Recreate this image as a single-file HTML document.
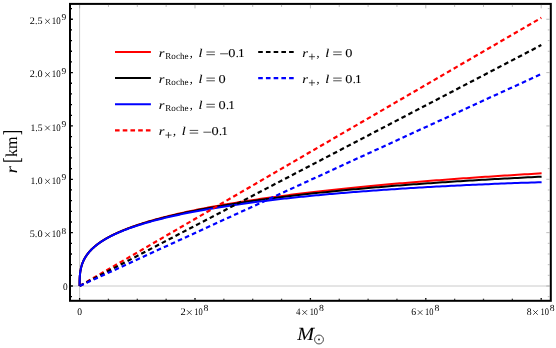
<!DOCTYPE html>
<html><head><meta charset="utf-8"><title>plot</title>
<style>html,body{margin:0;padding:0;background:#fff;overflow:hidden}svg text{font-family:"Liberation Serif",serif;text-rendering:geometricPrecision;}</style>
</head><body>
<svg width="556" height="348" viewBox="0 0 556 348" style="display:block">
<rect width="556" height="348" fill="#fff"/>
<line x1="70.0" x2="550.8" y1="286.0" y2="286.0" stroke="#cacaca" stroke-width="1"/>
<line x1="79.6" x2="79.6" y1="3.9" y2="300.8" stroke="#cacaca" stroke-width="1"/>
<path d="M79.60,286.00 L79.60,285.69 L79.60,285.38 L79.60,285.07 L79.60,284.75 L79.60,284.44 L79.60,284.13 L79.60,283.82 L79.60,283.51 L79.61,283.20 L79.61,282.88 L79.61,282.57 L79.61,282.26 L79.62,281.95 L79.62,281.64 L79.62,281.33 L79.63,281.02 L79.64,280.70 L79.64,280.39 L79.65,280.08 L79.66,279.77 L79.67,279.46 L79.68,279.15 L79.69,278.84 L79.70,278.52 L79.71,278.21 L79.73,277.90 L79.74,277.59 L79.76,277.28 L79.78,276.97 L79.79,276.66 L79.82,276.35 L79.84,276.03 L79.86,275.72 L79.88,275.41 L79.91,275.10 L79.94,274.79 L79.97,274.48 L80.00,274.17 L80.03,273.86 L80.06,273.55 L80.10,273.24 L80.13,272.93 L80.17,272.61 L80.21,272.30 L80.26,271.99 L80.30,271.68 L80.35,271.37 L80.40,271.06 L80.45,270.75 L80.50,270.44 L80.56,270.13 L80.62,269.82 L80.67,269.51 L80.74,269.20 L80.80,268.89 L80.87,268.58 L80.94,268.27 L81.01,267.96 L81.08,267.65 L81.16,267.34 L81.24,267.03 L81.32,266.72 L81.41,266.41 L81.49,266.10 L81.58,265.79 L81.68,265.48 L81.77,265.17 L81.87,264.86 L81.97,264.55 L82.08,264.24 L82.18,263.93 L82.29,263.62 L82.41,263.32 L82.53,263.01 L82.65,262.70 L82.77,262.39 L82.90,262.08 L83.03,261.77 L83.16,261.46 L83.30,261.15 L83.44,260.85 L83.58,260.54 L83.73,260.23 L83.88,259.92 L84.03,259.61 L84.19,259.30 L84.35,259.00 L84.52,258.69 L84.69,258.38 L84.86,258.07 L85.04,257.77 L85.22,257.46 L85.41,257.15 L85.60,256.84 L85.79,256.54 L85.99,256.23 L86.19,255.92 L86.39,255.62 L86.60,255.31 L86.82,255.00 L87.04,254.70 L87.26,254.39 L87.49,254.08 L87.72,253.78 L87.96,253.47 L88.20,253.17 L88.44,252.86 L88.69,252.55 L88.95,252.25 L89.21,251.94 L89.47,251.64 L89.74,251.33 L90.02,251.03 L90.29,250.72 L90.58,250.42 L90.87,250.11 L91.16,249.81 L91.46,249.50 L91.76,249.20 L92.07,248.90 L92.39,248.59 L92.71,248.29 L93.03,247.98 L93.36,247.68 L93.70,247.38 L94.04,247.07 L94.39,246.77 L94.74,246.47 L95.10,246.16 L95.46,245.86 L95.83,245.56 L96.20,245.25 L96.58,244.95 L96.97,244.65 L97.36,244.35 L97.76,244.05 L98.16,243.74 L98.57,243.44 L98.99,243.14 L99.41,242.84 L99.84,242.54 L100.27,242.24 L100.71,241.94 L101.16,241.63 L101.61,241.33 L102.07,241.03 L102.53,240.73 L103.00,240.43 L103.48,240.13 L103.96,239.83 L104.45,239.53 L104.95,239.23 L105.45,238.93 L105.96,238.63 L106.48,238.33 L107.01,238.03 L107.54,237.74 L108.07,237.44 L108.62,237.14 L109.17,236.84 L109.73,236.54 L110.29,236.24 L110.86,235.95 L111.44,235.65 L112.03,235.35 L112.62,235.05 L113.22,234.75 L113.83,234.46 L114.44,234.16 L115.07,233.86 L115.70,233.57 L116.33,233.27 L116.98,232.97 L117.63,232.68 L118.29,232.38 L118.96,232.09 L119.63,231.79 L120.31,231.49 L121.00,231.20 L121.70,230.90 L122.41,230.61 L123.12,230.31 L123.84,230.02 L124.57,229.72 L125.31,229.43 L126.05,229.13 L126.80,228.84 L127.57,228.55 L128.34,228.25 L129.11,227.96 L129.90,227.67 L130.69,227.37 L131.50,227.08 L132.31,226.79 L133.13,226.49 L133.95,226.20 L134.79,225.91 L135.63,225.62 L136.49,225.32 L137.35,225.03 L138.22,224.74 L139.10,224.45 L139.99,224.16 L140.88,223.87 L141.79,223.58 L142.70,223.28 L143.63,222.99 L144.56,222.70 L145.50,222.41 L146.45,222.12 L147.41,221.83 L148.38,221.54 L149.36,221.25 L150.35,220.96 L151.34,220.68 L152.35,220.39 L153.36,220.10 L154.39,219.81 L155.42,219.52 L156.47,219.23 L157.52,218.94 L158.58,218.66 L159.65,218.37 L160.73,218.08 L161.83,217.79 L162.93,217.51 L164.04,217.22 L165.16,216.93 L166.29,216.65 L167.43,216.36 L168.58,216.07 L169.74,215.79 L170.91,215.50 L172.09,215.22 L173.28,214.93 L174.49,214.65 L175.70,214.36 L176.92,214.08 L178.15,213.79 L179.39,213.51 L180.64,213.23 L181.91,212.94 L183.18,212.66 L184.47,212.38 L185.76,212.09 L187.07,211.81 L188.38,211.53 L189.71,211.25 L191.04,210.96 L192.39,210.68 L193.75,210.40 L195.12,210.12 L196.50,209.84 L197.89,209.56 L199.30,209.28 L200.71,209.00 L202.14,208.72 L203.57,208.44 L205.02,208.16 L206.48,207.88 L207.95,207.60 L209.43,207.32 L210.92,207.04 L212.42,206.76 L213.94,206.49 L215.46,206.21 L217.00,205.93 L218.55,205.65 L220.11,205.38 L221.69,205.10 L223.27,204.82 L224.87,204.55 L226.48,204.27 L228.10,204.00 L229.73,203.72 L231.37,203.45 L233.03,203.17 L234.69,202.90 L236.37,202.63 L238.07,202.35 L239.77,202.08 L241.49,201.81 L243.21,201.54 L244.95,201.26 L246.71,200.99 L248.47,200.72 L250.25,200.45 L252.04,200.18 L253.84,199.91 L255.66,199.64 L257.49,199.37 L259.33,199.10 L261.18,198.83 L263.04,198.57 L264.92,198.30 L266.81,198.03 L268.72,197.76 L270.63,197.50 L272.56,197.23 L274.51,196.96 L276.46,196.70 L278.43,196.43 L280.41,196.17 L282.41,195.91 L284.41,195.64 L286.44,195.38 L288.47,195.12 L290.52,194.85 L292.58,194.59 L294.65,194.33 L296.74,194.07 L298.84,193.81 L300.96,193.55 L303.09,193.29 L305.23,193.03 L307.38,192.77 L309.55,192.52 L311.74,192.26 L313.93,192.00 L316.14,191.74 L318.37,191.49 L320.61,191.23 L322.86,190.98 L325.13,190.72 L327.41,190.47 L329.70,190.22 L332.01,189.96 L334.33,189.71 L336.67,189.46 L339.02,189.21 L341.39,188.96 L343.77,188.71 L346.16,188.46 L348.57,188.21 L350.99,187.96 L353.43,187.72 L355.88,187.47 L358.35,187.22 L360.83,186.98 L363.33,186.73 L365.84,186.49 L368.36,186.24 L370.90,186.00 L373.46,185.76 L376.03,185.52 L378.61,185.28 L381.21,185.04 L383.83,184.80 L386.46,184.56 L389.10,184.32 L391.76,184.08 L394.44,183.84 L397.13,183.61 L399.84,183.37 L402.56,183.14 L405.30,182.90 L408.05,182.67 L410.82,182.44 L413.60,182.20 L416.40,181.97 L419.21,181.74 L422.04,181.51 L424.89,181.28 L427.75,181.05 L430.63,180.83 L433.52,180.60 L436.43,180.37 L439.35,180.15 L442.29,179.92 L445.25,179.70 L448.22,179.48 L451.21,179.25 L454.22,179.03 L457.24,178.81 L460.28,178.59 L463.33,178.37 L466.40,178.15 L469.49,177.94 L472.59,177.72 L475.71,177.50 L478.84,177.29 L481.99,177.07 L485.16,176.86 L488.35,176.65 L491.55,176.44 L494.77,176.23 L498.00,176.02 L501.25,175.81 L504.52,175.60 L507.81,175.39 L511.11,175.19 L514.43,174.98 L517.77,174.78 L521.12,174.57 L524.49,174.37 L527.88,174.17 L531.28,173.97 L534.70,173.77 L538.14,173.57 L541.60,173.37" fill="none" stroke="#ff0000" stroke-width="2" stroke-linejoin="round"/>
<path d="M79.60,286.00 L79.60,285.69 L79.60,285.38 L79.60,285.07 L79.60,284.75 L79.60,284.44 L79.60,284.13 L79.60,283.82 L79.60,283.51 L79.61,283.20 L79.61,282.88 L79.61,282.57 L79.61,282.26 L79.62,281.95 L79.62,281.64 L79.62,281.33 L79.63,281.02 L79.64,280.70 L79.64,280.39 L79.65,280.08 L79.66,279.77 L79.67,279.46 L79.68,279.15 L79.69,278.84 L79.70,278.52 L79.71,278.21 L79.73,277.90 L79.74,277.59 L79.76,277.28 L79.78,276.97 L79.79,276.66 L79.82,276.35 L79.84,276.04 L79.86,275.72 L79.88,275.41 L79.91,275.10 L79.94,274.79 L79.97,274.48 L80.00,274.17 L80.03,273.86 L80.06,273.55 L80.10,273.24 L80.13,272.93 L80.17,272.61 L80.21,272.30 L80.26,271.99 L80.30,271.68 L80.35,271.37 L80.40,271.06 L80.45,270.75 L80.50,270.44 L80.56,270.13 L80.62,269.82 L80.67,269.51 L80.74,269.20 L80.80,268.89 L80.87,268.58 L80.94,268.27 L81.01,267.96 L81.08,267.65 L81.16,267.34 L81.24,267.03 L81.32,266.72 L81.41,266.41 L81.49,266.10 L81.58,265.79 L81.68,265.48 L81.77,265.17 L81.87,264.86 L81.97,264.55 L82.08,264.25 L82.18,263.94 L82.29,263.63 L82.41,263.32 L82.53,263.01 L82.65,262.70 L82.77,262.39 L82.90,262.08 L83.03,261.78 L83.16,261.47 L83.30,261.16 L83.44,260.85 L83.58,260.54 L83.73,260.24 L83.88,259.93 L84.03,259.62 L84.19,259.31 L84.35,259.00 L84.52,258.70 L84.69,258.39 L84.86,258.08 L85.04,257.78 L85.22,257.47 L85.41,257.16 L85.60,256.85 L85.79,256.55 L85.99,256.24 L86.19,255.93 L86.39,255.63 L86.60,255.32 L86.82,255.02 L87.04,254.71 L87.26,254.40 L87.49,254.10 L87.72,253.79 L87.96,253.49 L88.20,253.18 L88.44,252.88 L88.69,252.57 L88.95,252.27 L89.21,251.96 L89.47,251.66 L89.74,251.35 L90.02,251.05 L90.29,250.74 L90.58,250.44 L90.87,250.14 L91.16,249.83 L91.46,249.53 L91.76,249.23 L92.07,248.92 L92.39,248.62 L92.71,248.32 L93.03,248.01 L93.36,247.71 L93.70,247.41 L94.04,247.11 L94.39,246.80 L94.74,246.50 L95.10,246.20 L95.46,245.90 L95.83,245.60 L96.20,245.29 L96.58,244.99 L96.97,244.69 L97.36,244.39 L97.76,244.09 L98.16,243.79 L98.57,243.49 L98.99,243.19 L99.41,242.89 L99.84,242.59 L100.27,242.29 L100.71,241.99 L101.16,241.69 L101.61,241.39 L102.07,241.09 L102.53,240.79 L103.00,240.49 L103.48,240.20 L103.96,239.90 L104.45,239.60 L104.95,239.30 L105.45,239.00 L105.96,238.71 L106.48,238.41 L107.01,238.11 L107.54,237.81 L108.07,237.52 L108.62,237.22 L109.17,236.92 L109.73,236.63 L110.29,236.33 L110.86,236.04 L111.44,235.74 L112.03,235.45 L112.62,235.15 L113.22,234.86 L113.83,234.56 L114.44,234.27 L115.07,233.97 L115.70,233.68 L116.33,233.38 L116.98,233.09 L117.63,232.80 L118.29,232.50 L118.96,232.21 L119.63,231.92 L120.31,231.62 L121.00,231.33 L121.70,231.04 L122.41,230.75 L123.12,230.46 L123.84,230.16 L124.57,229.87 L125.31,229.58 L126.05,229.29 L126.80,229.00 L127.57,228.71 L128.34,228.42 L129.11,228.13 L129.90,227.84 L130.69,227.55 L131.50,227.26 L132.31,226.97 L133.13,226.68 L133.95,226.39 L134.79,226.10 L135.63,225.82 L136.49,225.53 L137.35,225.24 L138.22,224.95 L139.10,224.67 L139.99,224.38 L140.88,224.09 L141.79,223.81 L142.70,223.52 L143.63,223.23 L144.56,222.95 L145.50,222.66 L146.45,222.38 L147.41,222.09 L148.38,221.81 L149.36,221.52 L150.35,221.24 L151.34,220.95 L152.35,220.67 L153.36,220.39 L154.39,220.10 L155.42,219.82 L156.47,219.54 L157.52,219.25 L158.58,218.97 L159.65,218.69 L160.73,218.41 L161.83,218.13 L162.93,217.85 L164.04,217.57 L165.16,217.28 L166.29,217.00 L167.43,216.72 L168.58,216.44 L169.74,216.17 L170.91,215.89 L172.09,215.61 L173.28,215.33 L174.49,215.05 L175.70,214.77 L176.92,214.50 L178.15,214.22 L179.39,213.94 L180.64,213.66 L181.91,213.39 L183.18,213.11 L184.47,212.84 L185.76,212.56 L187.07,212.29 L188.38,212.01 L189.71,211.74 L191.04,211.46 L192.39,211.19 L193.75,210.92 L195.12,210.64 L196.50,210.37 L197.89,210.10 L199.30,209.83 L200.71,209.55 L202.14,209.28 L203.57,209.01 L205.02,208.74 L206.48,208.47 L207.95,208.20 L209.43,207.93 L210.92,207.66 L212.42,207.39 L213.94,207.13 L215.46,206.86 L217.00,206.59 L218.55,206.32 L220.11,206.06 L221.69,205.79 L223.27,205.53 L224.87,205.26 L226.48,204.99 L228.10,204.73 L229.73,204.47 L231.37,204.20 L233.03,203.94 L234.69,203.68 L236.37,203.41 L238.07,203.15 L239.77,202.89 L241.49,202.63 L243.21,202.37 L244.95,202.11 L246.71,201.85 L248.47,201.59 L250.25,201.33 L252.04,201.07 L253.84,200.82 L255.66,200.56 L257.49,200.30 L259.33,200.05 L261.18,199.79 L263.04,199.54 L264.92,199.28 L266.81,199.03 L268.72,198.77 L270.63,198.52 L272.56,198.27 L274.51,198.02 L276.46,197.77 L278.43,197.52 L280.41,197.27 L282.41,197.02 L284.41,196.77 L286.44,196.52 L288.47,196.27 L290.52,196.02 L292.58,195.78 L294.65,195.53 L296.74,195.29 L298.84,195.04 L300.96,194.80 L303.09,194.55 L305.23,194.31 L307.38,194.07 L309.55,193.83 L311.74,193.59 L313.93,193.35 L316.14,193.11 L318.37,192.87 L320.61,192.63 L322.86,192.39 L325.13,192.16 L327.41,191.92 L329.70,191.68 L332.01,191.45 L334.33,191.22 L336.67,190.98 L339.02,190.75 L341.39,190.52 L343.77,190.29 L346.16,190.06 L348.57,189.83 L350.99,189.60 L353.43,189.37 L355.88,189.15 L358.35,188.92 L360.83,188.69 L363.33,188.47 L365.84,188.24 L368.36,188.02 L370.90,187.80 L373.46,187.58 L376.03,187.36 L378.61,187.14 L381.21,186.92 L383.83,186.70 L386.46,186.48 L389.10,186.27 L391.76,186.05 L394.44,185.84 L397.13,185.62 L399.84,185.41 L402.56,185.20 L405.30,184.99 L408.05,184.78 L410.82,184.57 L413.60,184.36 L416.40,184.15 L419.21,183.95 L422.04,183.74 L424.89,183.54 L427.75,183.33 L430.63,183.13 L433.52,182.93 L436.43,182.73 L439.35,182.53 L442.29,182.33 L445.25,182.13 L448.22,181.94 L451.21,181.74 L454.22,181.55 L457.24,181.35 L460.28,181.16 L463.33,180.97 L466.40,180.78 L469.49,180.59 L472.59,180.40 L475.71,180.21 L478.84,180.03 L481.99,179.84 L485.16,179.66 L488.35,179.47 L491.55,179.29 L494.77,179.11 L498.00,178.93 L501.25,178.75 L504.52,178.57 L507.81,178.40 L511.11,178.22 L514.43,178.05 L517.77,177.88 L521.12,177.70 L524.49,177.53 L527.88,177.36 L531.28,177.19 L534.70,177.03 L538.14,176.86 L541.60,176.70" fill="none" stroke="#000000" stroke-width="2" stroke-linejoin="round"/>
<path d="M79.60,286.00 L79.60,285.69 L79.60,285.38 L79.60,285.07 L79.60,284.75 L79.60,284.44 L79.60,284.13 L79.60,283.82 L79.60,283.51 L79.61,283.20 L79.61,282.88 L79.61,282.57 L79.61,282.26 L79.62,281.95 L79.62,281.64 L79.62,281.33 L79.63,281.02 L79.64,280.70 L79.64,280.39 L79.65,280.08 L79.66,279.77 L79.67,279.46 L79.68,279.15 L79.69,278.84 L79.70,278.52 L79.71,278.21 L79.73,277.90 L79.74,277.59 L79.76,277.28 L79.78,276.97 L79.79,276.66 L79.82,276.35 L79.84,276.04 L79.86,275.72 L79.88,275.41 L79.91,275.10 L79.94,274.79 L79.97,274.48 L80.00,274.17 L80.03,273.86 L80.06,273.55 L80.10,273.24 L80.13,272.93 L80.17,272.62 L80.21,272.31 L80.26,271.99 L80.30,271.68 L80.35,271.37 L80.40,271.06 L80.45,270.75 L80.50,270.44 L80.56,270.13 L80.62,269.82 L80.67,269.51 L80.74,269.20 L80.80,268.89 L80.87,268.58 L80.94,268.27 L81.01,267.96 L81.08,267.65 L81.16,267.34 L81.24,267.03 L81.32,266.72 L81.41,266.41 L81.49,266.11 L81.58,265.80 L81.68,265.49 L81.77,265.18 L81.87,264.87 L81.97,264.56 L82.08,264.25 L82.18,263.94 L82.29,263.63 L82.41,263.33 L82.53,263.02 L82.65,262.71 L82.77,262.40 L82.90,262.09 L83.03,261.78 L83.16,261.48 L83.30,261.17 L83.44,260.86 L83.58,260.55 L83.73,260.25 L83.88,259.94 L84.03,259.63 L84.19,259.32 L84.35,259.02 L84.52,258.71 L84.69,258.40 L84.86,258.10 L85.04,257.79 L85.22,257.48 L85.41,257.18 L85.60,256.87 L85.79,256.57 L85.99,256.26 L86.19,255.95 L86.39,255.65 L86.60,255.34 L86.82,255.04 L87.04,254.73 L87.26,254.43 L87.49,254.12 L87.72,253.82 L87.96,253.51 L88.20,253.21 L88.44,252.91 L88.69,252.60 L88.95,252.30 L89.21,251.99 L89.47,251.69 L89.74,251.39 L90.02,251.08 L90.29,250.78 L90.58,250.48 L90.87,250.18 L91.16,249.87 L91.46,249.57 L91.76,249.27 L92.07,248.97 L92.39,248.67 L92.71,248.36 L93.03,248.06 L93.36,247.76 L93.70,247.46 L94.04,247.16 L94.39,246.86 L94.74,246.56 L95.10,246.26 L95.46,245.96 L95.83,245.66 L96.20,245.36 L96.58,245.06 L96.97,244.76 L97.36,244.46 L97.76,244.16 L98.16,243.87 L98.57,243.57 L98.99,243.27 L99.41,242.97 L99.84,242.67 L100.27,242.38 L100.71,242.08 L101.16,241.78 L101.61,241.49 L102.07,241.19 L102.53,240.89 L103.00,240.60 L103.48,240.30 L103.96,240.01 L104.45,239.71 L104.95,239.42 L105.45,239.12 L105.96,238.83 L106.48,238.53 L107.01,238.24 L107.54,237.95 L108.07,237.65 L108.62,237.36 L109.17,237.07 L109.73,236.77 L110.29,236.48 L110.86,236.19 L111.44,235.90 L112.03,235.60 L112.62,235.31 L113.22,235.02 L113.83,234.73 L114.44,234.44 L115.07,234.15 L115.70,233.86 L116.33,233.57 L116.98,233.28 L117.63,232.99 L118.29,232.70 L118.96,232.42 L119.63,232.13 L120.31,231.84 L121.00,231.55 L121.70,231.26 L122.41,230.98 L123.12,230.69 L123.84,230.40 L124.57,230.12 L125.31,229.83 L126.05,229.55 L126.80,229.26 L127.57,228.98 L128.34,228.69 L129.11,228.41 L129.90,228.12 L130.69,227.84 L131.50,227.56 L132.31,227.27 L133.13,226.99 L133.95,226.71 L134.79,226.43 L135.63,226.15 L136.49,225.86 L137.35,225.58 L138.22,225.30 L139.10,225.02 L139.99,224.74 L140.88,224.46 L141.79,224.18 L142.70,223.91 L143.63,223.63 L144.56,223.35 L145.50,223.07 L146.45,222.79 L147.41,222.52 L148.38,222.24 L149.36,221.96 L150.35,221.69 L151.34,221.41 L152.35,221.14 L153.36,220.86 L154.39,220.59 L155.42,220.31 L156.47,220.04 L157.52,219.77 L158.58,219.49 L159.65,219.22 L160.73,218.95 L161.83,218.68 L162.93,218.41 L164.04,218.13 L165.16,217.86 L166.29,217.59 L167.43,217.32 L168.58,217.06 L169.74,216.79 L170.91,216.52 L172.09,216.25 L173.28,215.98 L174.49,215.72 L175.70,215.45 L176.92,215.18 L178.15,214.92 L179.39,214.65 L180.64,214.39 L181.91,214.12 L183.18,213.86 L184.47,213.60 L185.76,213.33 L187.07,213.07 L188.38,212.81 L189.71,212.55 L191.04,212.29 L192.39,212.03 L193.75,211.77 L195.12,211.51 L196.50,211.25 L197.89,210.99 L199.30,210.73 L200.71,210.48 L202.14,210.22 L203.57,209.96 L205.02,209.71 L206.48,209.45 L207.95,209.20 L209.43,208.94 L210.92,208.69 L212.42,208.44 L213.94,208.18 L215.46,207.93 L217.00,207.68 L218.55,207.43 L220.11,207.18 L221.69,206.93 L223.27,206.68 L224.87,206.43 L226.48,206.19 L228.10,205.94 L229.73,205.69 L231.37,205.45 L233.03,205.20 L234.69,204.96 L236.37,204.71 L238.07,204.47 L239.77,204.23 L241.49,203.99 L243.21,203.75 L244.95,203.51 L246.71,203.27 L248.47,203.03 L250.25,202.79 L252.04,202.55 L253.84,202.31 L255.66,202.08 L257.49,201.84 L259.33,201.61 L261.18,201.37 L263.04,201.14 L264.92,200.91 L266.81,200.67 L268.72,200.44 L270.63,200.21 L272.56,199.98 L274.51,199.76 L276.46,199.53 L278.43,199.30 L280.41,199.07 L282.41,198.85 L284.41,198.62 L286.44,198.40 L288.47,198.18 L290.52,197.95 L292.58,197.73 L294.65,197.51 L296.74,197.29 L298.84,197.07 L300.96,196.86 L303.09,196.64 L305.23,196.42 L307.38,196.21 L309.55,195.99 L311.74,195.78 L313.93,195.57 L316.14,195.36 L318.37,195.15 L320.61,194.94 L322.86,194.73 L325.13,194.52 L327.41,194.31 L329.70,194.11 L332.01,193.90 L334.33,193.70 L336.67,193.50 L339.02,193.30 L341.39,193.09 L343.77,192.89 L346.16,192.70 L348.57,192.50 L350.99,192.30 L353.43,192.11 L355.88,191.91 L358.35,191.72 L360.83,191.53 L363.33,191.34 L365.84,191.15 L368.36,190.96 L370.90,190.77 L373.46,190.58 L376.03,190.40 L378.61,190.21 L381.21,190.03 L383.83,189.85 L386.46,189.67 L389.10,189.49 L391.76,189.31 L394.44,189.13 L397.13,188.96 L399.84,188.78 L402.56,188.61 L405.30,188.43 L408.05,188.26 L410.82,188.09 L413.60,187.92 L416.40,187.76 L419.21,187.59 L422.04,187.43 L424.89,187.26 L427.75,187.10 L430.63,186.94 L433.52,186.78 L436.43,186.62 L439.35,186.46 L442.29,186.31 L445.25,186.15 L448.22,186.00 L451.21,185.85 L454.22,185.70 L457.24,185.55 L460.28,185.40 L463.33,185.26 L466.40,185.11 L469.49,184.97 L472.59,184.83 L475.71,184.69 L478.84,184.55 L481.99,184.41 L485.16,184.27 L488.35,184.14 L491.55,184.01 L494.77,183.87 L498.00,183.74 L501.25,183.62 L504.52,183.49 L507.81,183.36 L511.11,183.24 L514.43,183.12 L517.77,182.99 L521.12,182.87 L524.49,182.76 L527.88,182.64 L531.28,182.53 L534.70,182.41 L538.14,182.30 L541.60,182.19" fill="none" stroke="#0000ff" stroke-width="2" stroke-linejoin="round"/>
<line x1="79.6" y1="286.0" x2="541.3" y2="17.8" stroke="#ff0000" stroke-width="2.2" stroke-dasharray="4.6 3.125"/>
<line x1="79.6" y1="286.0" x2="541.3" y2="45.1" stroke="#000000" stroke-width="2.2" stroke-dasharray="4.6 3.125"/>
<line x1="79.6" y1="286.0" x2="541.3" y2="74.0" stroke="#0000ff" stroke-width="2.2" stroke-dasharray="4.6 3.125"/>
<rect x="70.0" y="3.9" width="480.79999999999995" height="296.90000000000003" fill="none" stroke="#000" stroke-width="2"/>
<path d="M79.60,299.8v-1.8 M108.45,299.8v-1.0 M137.30,299.8v-1.0 M166.15,299.8v-1.0 M195.00,299.8v-1.8 M223.85,299.8v-1.0 M252.70,299.8v-1.0 M281.55,299.8v-1.0 M310.40,299.8v-1.8 M339.25,299.8v-1.0 M368.10,299.8v-1.0 M396.95,299.8v-1.0 M425.80,299.8v-1.8 M454.65,299.8v-1.0 M483.50,299.8v-1.0 M512.35,299.8v-1.0 M541.20,299.8v-1.8 M71.0,296.67h1.0 M71.0,286.00h1.9 M71.0,275.33h1.0 M71.0,264.66h1.0 M71.0,253.99h1.0 M71.0,243.32h1.0 M71.0,232.65h1.9 M71.0,221.98h1.0 M71.0,211.31h1.0 M71.0,200.64h1.0 M71.0,189.97h1.0 M71.0,179.30h1.9 M71.0,168.63h1.0 M71.0,157.96h1.0 M71.0,147.29h1.0 M71.0,136.62h1.0 M71.0,125.95h1.9 M71.0,115.28h1.0 M71.0,104.61h1.0 M71.0,93.94h1.0 M71.0,83.27h1.0 M71.0,72.60h1.9 M71.0,61.93h1.0 M71.0,51.26h1.0 M71.0,40.59h1.0 M71.0,29.92h1.0 M71.0,19.25h1.9 M71.0,8.58h1.0" stroke="#000" stroke-width="1.3" fill="none"/>
<path d="M79.60,4.9v3.5 M108.45,4.9v2 M137.30,4.9v2 M166.15,4.9v2 M195.00,4.9v3.5 M223.85,4.9v2 M252.70,4.9v2 M281.55,4.9v2 M310.40,4.9v3.5 M339.25,4.9v2 M368.10,4.9v2 M396.95,4.9v2 M425.80,4.9v3.5 M454.65,4.9v2 M483.50,4.9v2 M512.35,4.9v2 M541.20,4.9v3.5 M549.8,296.67h-2 M549.8,286.00h-3.5 M549.8,275.33h-2 M549.8,264.66h-2 M549.8,253.99h-2 M549.8,243.32h-2 M549.8,232.65h-3.5 M549.8,221.98h-2 M549.8,211.31h-2 M549.8,200.64h-2 M549.8,189.97h-2 M549.8,179.30h-3.5 M549.8,168.63h-2 M549.8,157.96h-2 M549.8,147.29h-2 M549.8,136.62h-2 M549.8,125.95h-3.5 M549.8,115.28h-2 M549.8,104.61h-2 M549.8,93.94h-2 M549.8,83.27h-2 M549.8,72.60h-3.5 M549.8,61.93h-2 M549.8,51.26h-2 M549.8,40.59h-2 M549.8,29.92h-2 M549.8,19.25h-3.5 M549.8,8.58h-2" stroke="#a0a0a0" stroke-width="0.7" fill="none"/>
<line x1="115" x2="150.9" y1="52.0" y2="52.0" stroke="#ff0000" stroke-width="2"/>
<line x1="115" x2="150.9" y1="78.1" y2="78.1" stroke="#000000" stroke-width="2"/>
<line x1="115" x2="150.9" y1="104.3" y2="104.3" stroke="#0000ff" stroke-width="2"/>
<line x1="115" x2="150.9" y1="130.4" y2="130.4" stroke="#ff0000" stroke-width="2.2" stroke-dasharray="4.6 3.125"/>
<line x1="258.2" x2="294.1" y1="52.0" y2="52.0" stroke="#000" stroke-width="2.2" stroke-dasharray="4.6 3.125"/>
<line x1="258.2" x2="294.1" y1="78.1" y2="78.1" stroke="#0000ff" stroke-width="2.2" stroke-dasharray="4.6 3.125"/>
<circle cx="319.0" cy="339.5" r="4.45" fill="none" stroke="#1a1a1a" stroke-width="0.8"/><circle cx="319.0" cy="339.5" r="0.9" fill="#1a1a1a"/>
<g opacity="0.999">
<text transform="translate(29.79,23.80) scale(1.017,1)" font-size="10" fill="#000">2.5</text>
<text transform="translate(51.79,23.80) scale(0.888,1)" font-size="10" fill="#000">10</text>
<text transform="translate(61.61,20.20) scale(1.059,1)" font-size="9.0" fill="#000">9</text>
<text transform="translate(29.79,77.15) scale(1.017,1)" font-size="10" fill="#000">2.0</text>
<text transform="translate(51.79,77.15) scale(0.888,1)" font-size="10" fill="#000">10</text>
<text transform="translate(61.61,73.55) scale(1.059,1)" font-size="9.0" fill="#000">9</text>
<text transform="translate(30.43,130.50) scale(0.965,1)" font-size="10" fill="#000">1.5</text>
<text transform="translate(51.79,130.50) scale(0.888,1)" font-size="10" fill="#000">10</text>
<text transform="translate(61.61,126.90) scale(1.059,1)" font-size="9.0" fill="#000">9</text>
<text transform="translate(30.43,183.85) scale(0.965,1)" font-size="10" fill="#000">1.0</text>
<text transform="translate(51.79,183.85) scale(0.888,1)" font-size="10" fill="#000">10</text>
<text transform="translate(61.61,180.25) scale(1.059,1)" font-size="9.0" fill="#000">9</text>
<text transform="translate(29.69,237.20) scale(1.026,1)" font-size="10" fill="#000">5.0</text>
<text transform="translate(51.79,237.20) scale(0.888,1)" font-size="10" fill="#000">10</text>
<text transform="translate(61.62,233.60) scale(1.035,1)" font-size="9.0" fill="#000">8</text>
<text transform="translate(62.92,289.50) scale(0.932,1)" font-size="10" fill="#000">0</text>
<text transform="translate(180.38,315.00) scale(1.049,1)" font-size="10" fill="#000">2</text>
<text transform="translate(194.23,315.00) scale(0.843,1)" font-size="10" fill="#000">10</text>
<text transform="translate(203.61,311.30) scale(1.051,1)" font-size="9.3" fill="#000">8</text>
<text transform="translate(296.11,315.00) scale(0.896,1)" font-size="10" fill="#000">4</text>
<text transform="translate(309.63,315.00) scale(0.843,1)" font-size="10" fill="#000">10</text>
<text transform="translate(319.01,311.30) scale(1.051,1)" font-size="9.3" fill="#000">8</text>
<text transform="translate(411.21,315.00) scale(0.977,1)" font-size="10" fill="#000">6</text>
<text transform="translate(425.03,315.00) scale(0.843,1)" font-size="10" fill="#000">10</text>
<text transform="translate(434.41,311.30) scale(1.051,1)" font-size="9.3" fill="#000">8</text>
<text transform="translate(526.71,315.00) scale(0.977,1)" font-size="10" fill="#000">8</text>
<text transform="translate(540.43,315.00) scale(0.843,1)" font-size="10" fill="#000">10</text>
<text transform="translate(549.81,311.30) scale(1.051,1)" font-size="9.3" fill="#000">8</text>
<text transform="translate(77.21,315.00) scale(0.955,1)" font-size="10" fill="#000">0</text>
<text transform="translate(158.72,56.90) scale(1.204,1)" font-size="12" font-style="italic" fill="#000" stroke="#000" stroke-width="0.07">r</text>
<text transform="translate(165.32,59.10) scale(0.987,1)" font-size="9.2" fill="#000">Roche</text>
<text transform="translate(189.64,56.90) scale(1.000,1)" font-size="12" fill="#000" stroke="#000" stroke-width="0.07">,</text>
<text transform="translate(198.39,56.90) scale(1.190,1)" font-size="12" font-style="italic" fill="#000" stroke="#000" stroke-width="0.07">l</text>
<text transform="translate(228.27,56.90) scale(1.193,1)" font-size="12" fill="#000" stroke="#000" stroke-width="0.07">0</text>
<text transform="translate(235.68,56.90) scale(1.000,1)" font-size="12" fill="#000" stroke="#000" stroke-width="0.07">.</text>
<text transform="translate(237.93,56.90) scale(1.111,1)" font-size="12" fill="#000" stroke="#000" stroke-width="0.07">1</text>
<text transform="translate(158.72,83.00) scale(1.204,1)" font-size="12" font-style="italic" fill="#000" stroke="#000" stroke-width="0.07">r</text>
<text transform="translate(165.32,85.20) scale(0.987,1)" font-size="9.2" fill="#000">Roche</text>
<text transform="translate(189.64,83.00) scale(1.000,1)" font-size="12" fill="#000" stroke="#000" stroke-width="0.07">,</text>
<text transform="translate(198.39,83.00) scale(1.190,1)" font-size="12" font-style="italic" fill="#000" stroke="#000" stroke-width="0.07">l</text>
<text transform="translate(218.57,83.00) scale(1.193,1)" font-size="12" fill="#000" stroke="#000" stroke-width="0.07">0</text>
<text transform="translate(158.72,109.20) scale(1.204,1)" font-size="12" font-style="italic" fill="#000" stroke="#000" stroke-width="0.07">r</text>
<text transform="translate(165.32,111.40) scale(0.987,1)" font-size="9.2" fill="#000">Roche</text>
<text transform="translate(189.64,109.20) scale(1.000,1)" font-size="12" fill="#000" stroke="#000" stroke-width="0.07">,</text>
<text transform="translate(198.39,109.20) scale(1.190,1)" font-size="12" font-style="italic" fill="#000" stroke="#000" stroke-width="0.07">l</text>
<text transform="translate(218.57,109.20) scale(1.193,1)" font-size="12" fill="#000" stroke="#000" stroke-width="0.07">0</text>
<text transform="translate(225.98,109.20) scale(1.000,1)" font-size="12" fill="#000" stroke="#000" stroke-width="0.07">.</text>
<text transform="translate(228.23,109.20) scale(1.111,1)" font-size="12" fill="#000" stroke="#000" stroke-width="0.07">1</text>
<text transform="translate(158.72,135.30) scale(1.204,1)" font-size="12" font-style="italic" fill="#000" stroke="#000" stroke-width="0.07">r</text>
<text transform="translate(172.94,135.30) scale(1.000,1)" font-size="12" fill="#000" stroke="#000" stroke-width="0.07">,</text>
<text transform="translate(181.69,135.30) scale(1.190,1)" font-size="12" font-style="italic" fill="#000" stroke="#000" stroke-width="0.07">l</text>
<text transform="translate(211.57,135.30) scale(1.193,1)" font-size="12" fill="#000" stroke="#000" stroke-width="0.07">0</text>
<text transform="translate(218.98,135.30) scale(1.000,1)" font-size="12" fill="#000" stroke="#000" stroke-width="0.07">.</text>
<text transform="translate(221.23,135.30) scale(1.111,1)" font-size="12" fill="#000" stroke="#000" stroke-width="0.07">1</text>
<text transform="translate(302.22,56.90) scale(1.204,1)" font-size="12" font-style="italic" fill="#000" stroke="#000" stroke-width="0.07">r</text>
<text transform="translate(316.44,56.90) scale(1.000,1)" font-size="12" fill="#000" stroke="#000" stroke-width="0.07">,</text>
<text transform="translate(325.19,56.90) scale(1.190,1)" font-size="12" font-style="italic" fill="#000" stroke="#000" stroke-width="0.07">l</text>
<text transform="translate(345.37,56.90) scale(1.193,1)" font-size="12" fill="#000" stroke="#000" stroke-width="0.07">0</text>
<text transform="translate(302.22,83.00) scale(1.204,1)" font-size="12" font-style="italic" fill="#000" stroke="#000" stroke-width="0.07">r</text>
<text transform="translate(316.44,83.00) scale(1.000,1)" font-size="12" fill="#000" stroke="#000" stroke-width="0.07">,</text>
<text transform="translate(325.19,83.00) scale(1.190,1)" font-size="12" font-style="italic" fill="#000" stroke="#000" stroke-width="0.07">l</text>
<text transform="translate(345.37,83.00) scale(1.193,1)" font-size="12" fill="#000" stroke="#000" stroke-width="0.07">0</text>
<text transform="translate(352.78,83.00) scale(1.000,1)" font-size="12" fill="#000" stroke="#000" stroke-width="0.07">.</text>
<text transform="translate(355.03,83.00) scale(1.111,1)" font-size="12" fill="#000" stroke="#000" stroke-width="0.07">1</text>
<text transform="translate(297.20,339.70) scale(1.093,1)" font-size="18.5" font-style="italic" fill="#000" stroke="#000" stroke-width="0.07">M</text>
<path d="M206.40,52.00H214.90M206.40,54.70H214.90 M220.10,53.80H228.00 M206.40,78.10H214.90M206.40,80.80H214.90 M206.40,104.30H214.90M206.40,107.00H214.90 M165.40,135.10H171.50M168.45,132.05V138.15 M189.70,130.40H198.20M189.70,133.10H198.20 M203.40,132.20H211.30 M308.90,56.70H315.00M311.95,53.65V59.75 M333.20,52.00H341.70M333.20,54.70H341.70 M308.90,82.80H315.00M311.95,79.75V85.85 M333.20,78.10H341.70M333.20,80.80H341.70" stroke="#000" stroke-width="0.7" fill="none"/>
<path d="M45.20,19.00L49.80,23.60M45.20,23.60L49.80,19.00 M45.20,72.35L49.80,76.95M45.20,76.95L49.80,72.35 M45.20,125.70L49.80,130.30M45.20,130.30L49.80,125.70 M45.20,179.05L49.80,183.65M45.20,183.65L49.80,179.05 M45.20,232.40L49.80,237.00M45.20,237.00L49.80,232.40 M187.00,310.20L191.60,314.80M187.00,314.80L191.60,310.20 M302.40,310.20L307.00,314.80M302.40,314.80L307.00,310.20 M417.80,310.20L422.40,314.80M417.80,314.80L422.40,310.20 M533.20,310.20L537.80,314.80M533.20,314.80L537.80,310.20" stroke="#000" stroke-width="0.7" fill="none"/>
<g transform="translate(17.2,172.6) rotate(-90)">
<text transform="translate(-0.53,0.00) scale(1.146,1.000)" font-size="16" font-style="italic" fill="#000" stroke="#000" stroke-width="0.07">r</text>
<text transform="translate(9.71,1.64) scale(0.997,1.339)" font-size="17" fill="#000" stroke="#000" stroke-width="0.07">[</text>
<text transform="translate(15.54,0.00) scale(0.976,1.000)" font-size="16.5" fill="#000" stroke="#000" stroke-width="0.07">km</text>
<text transform="translate(37.63,1.64) scale(0.921,1.339)" font-size="17" fill="#000" stroke="#000" stroke-width="0.07">]</text>
</g>
</g>
</svg>
</body></html>
